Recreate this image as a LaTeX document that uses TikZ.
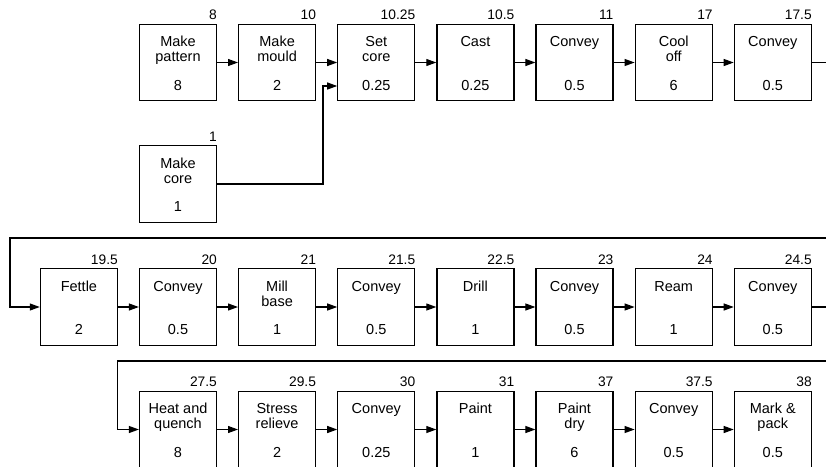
\documentclass[tikz,border=0pt]{standalone}
\usepackage{fontspec}
\setmainfont{Liberation Sans}
\usetikzlibrary{arrows.meta}
\tikzset{
  pbox/.style={draw, line width=1.2pt, minimum width=77pt, minimum height=76.5pt, inner sep=0pt},
  ptxt/.style={anchor=base, inner sep=0pt, font=\fontsize{14.5}{15}\selectfont},
  ptime/.style={anchor=base east, inner sep=0pt, font=\fontsize{13.8}{14}\selectfont},
  flow/.style={line width=1.1pt, -{Triangle[length=10pt,width=7pt]}},
  wire/.style={line width=1.1pt}
}
\newcommand\mkbox[7]{%
  \node[pbox] (#1) at (#2,#3) {};
  \node[ptxt] (#1-a) at ([yshift=-23pt]#1.north) {#4};
  \node[ptxt] (#1-b) at ([yshift=-38pt]#1.north) {#5};
  \node[ptxt] (#1-c) at ([yshift=-66.5pt]#1.north) {#6};
  \node[ptime] (#1-t) at ([yshift=3.8pt]#1.north east) {#7};
}
\begin{document}
\begin{tikzpicture}[x=1pt,y=-1pt]
\useasboundingbox (0,0) rectangle (826,466);
% row 1
\mkbox{a1}{178}{62.5}{Make}{pattern}{8}{8}
\mkbox{a2}{277.1}{62.5}{Make}{mould}{2}{10}
\mkbox{a3}{376.3}{62.5}{Set}{core}{0.25}{10.25}
\mkbox{a4}{475.4}{62.5}{Cast}{}{0.25}{10.5}
\mkbox{a5}{574.5}{62.5}{Convey}{}{0.5}{11}
\mkbox{a6}{673.7}{62.5}{Cool}{off}{6}{17}
\mkbox{a7}{772.8}{62.5}{Convey}{}{0.5}{17.5}
\mkbox{mc}{178}{184}{Make}{core}{1}{1}
% row 2
\mkbox{b1}{78.9}{307}{Fettle}{}{2}{19.5}
\mkbox{b2}{178}{307}{Convey}{}{0.5}{20}
\mkbox{b3}{277.1}{307}{Mill}{base}{1}{21}
\mkbox{b4}{376.3}{307}{Convey}{}{0.5}{21.5}
\mkbox{b5}{475.4}{307}{Drill}{}{1}{22.5}
\mkbox{b6}{574.5}{307}{Convey}{}{0.5}{23}
\mkbox{b7}{673.7}{307}{Ream}{}{1}{24}
\mkbox{b8}{772.8}{307}{Convey}{}{0.5}{24.5}
% row 3
\mkbox{c1}{178}{429.5}{Heat and}{quench}{8}{27.5}
\mkbox{c2}{277.1}{429.5}{Stress}{relieve}{2}{29.5}
\mkbox{c3}{376.3}{429.5}{Convey}{}{0.25}{30}
\mkbox{c4}{475.4}{429.5}{Paint}{}{1}{31}
\mkbox{c5}{574.5}{429.5}{Paint}{dry}{6}{37}
\mkbox{c6}{673.7}{429.5}{Convey}{}{0.5}{37.5}
\mkbox{c7}{772.8}{429.5}{Mark \&}{pack}{0.5}{38}
% connectors row 1
\foreach \p/\q in {a1/a2,a2/a3,a3/a4,a4/a5,a5/a6,a6/a7} \draw[flow] (\p.east) -- (\q.west);
\coordinate (j1) at (323,86);
\draw[flow] (mc.east) -| (j1) -- (j1 -| a3.west);
\coordinate (e1) at (828,62.5);
\draw[wire] (a7.east) -- (e1);
% wrap to row 2
\coordinate (w2r) at (828,238);
\coordinate (w2l) at (10,238);
\draw[flow] (w2r) -- (w2l) |- (b1.west);
\foreach \p/\q in {b1/b2,b2/b3,b3/b4,b4/b5,b5/b6,b6/b7,b7/b8} \draw[flow] (\p.east) -- (\q.west);
\coordinate (e2) at (828,307);
\draw[wire] (b8.east) -- (e2);
% wrap to row 3
\coordinate (w3r) at (828,361);
\coordinate (w3l) at (117.3,361);
\draw[flow] (w3r) -- (w3l) |- (c1.west);
\foreach \p/\q in {c1/c2,c2/c3,c3/c4,c4/c5,c5/c6,c6/c7} \draw[flow] (\p.east) -- (\q.west);
\end{tikzpicture}
\end{document}
